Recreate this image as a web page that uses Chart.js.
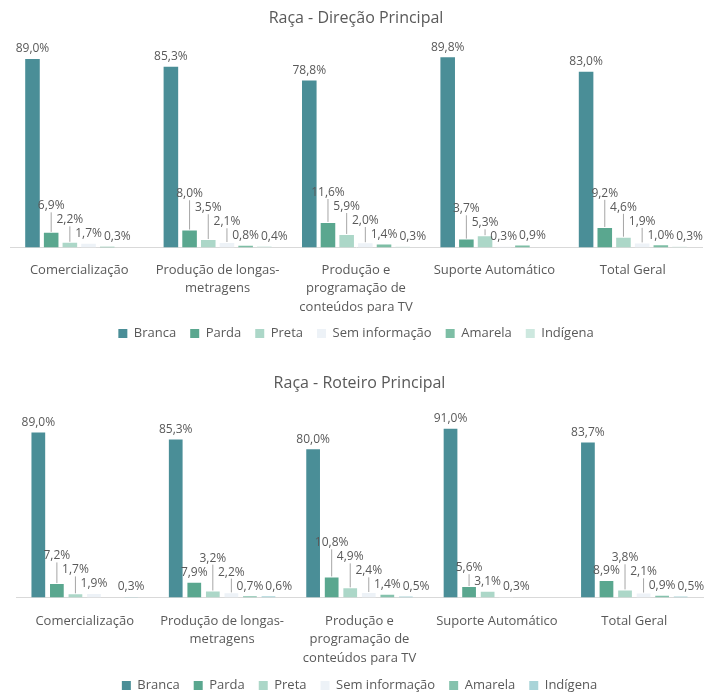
<!DOCTYPE html>
<html>
<head>
<meta charset="utf-8">
<script src="https://cdn.jsdelivr.net/npm/chart.js@4.4.1/dist/chart.umd.min.js"></script>
<style>
  html, body { margin: 0; padding: 0; background: #ffffff; overflow: hidden; width: 704px; height: 694px; }
  .box { position: absolute; left: 0; width: 704px; }
  #b1 { top: 0; height: 350px; }
  #b2 { top: 350px; height: 352px; }
</style>
</head>
<body>
<div class="box" id="b1"><canvas id="c1"></canvas></div>
<div class="box" id="b2"><canvas id="c2"></canvas></div>
<script>
// ---- Data ----
const categories = [
  'Comercialização',
  ['Produção de longas-', 'metragens'],
  ['Produção e', 'programação de', 'conteúdos para TV'],
  'Suporte Automático',
  'Total Geral'
];
const seriesNames = ['Branca', 'Parda', 'Preta', 'Sem informação', 'Amarela', 'Indígena'];

const titleDirecao = 'Raça - Direção Principal';
const direcaoBranca   = [89.0, 85.3, 78.8, 89.8, 83.0];
const direcaoParda    = [6.9, 8.0, 11.6, 3.7, 9.2];
const direcaoPreta    = [2.2, 3.5, 5.9, 5.3, 4.6];
const direcaoSemInfo  = [1.7, 2.1, 2.0, 0.3, 1.9];
const direcaoAmarela  = [0.3, 0.8, 1.4, 0.9, 1.0];
const direcaoIndigena = [0, 0.4, 0.3, 0, 0.3];

const titleRoteiro = 'Raça - Roteiro Principal';
const roteiroBranca   = [89.0, 85.3, 80.0, 91.0, 83.7];
const roteiroParda    = [7.2, 7.9, 10.8, 5.6, 8.9];
const roteiroPreta    = [1.7, 3.2, 4.9, 3.1, 3.8];
const roteiroSemInfo  = [1.9, 2.2, 2.4, 0.3, 2.1];
const roteiroAmarela  = [0, 0.7, 1.4, 0, 0.9];
const roteiroIndigena = [0.3, 0.6, 0.5, 0, 0.5];

// ---- Styles ----
const colorsDirecao = ['#4a8e97', '#5aa78f', '#acd7c8', '#edf2f7', '#7dbea5', '#cde8df'];
const colorsRoteiro = ['#4a8e97', '#5aa78f', '#acd7c8', '#edf2f7', '#85c2ad', '#a9d4d8'];
const textColor = '#595959';
const FONT = '"Open Sans", "Noto Sans", sans-serif';

function fmt(v) { return v.toFixed(1).replace('.', ',') + '%'; }

const barLabelPlugin = {
  id: 'barLabels',
  afterDatasetsDraw(chart) {
    const ctx = chart.ctx;
    ctx.save();
    ctx.font = '12px ' + FONT;
    ctx.textAlign = 'center';
    ctx.textBaseline = 'middle';
    const n = chart.data.labels.length;
    const nd = chart.data.datasets.length;
    const H = 13;
    const overlap = (a, b) => Math.abs(a.cx - b.cx) < (a.w + b.w) / 2 + 1 && Math.abs(a.cy - b.cy) < (a.h + b.h) / 2;
    for (let i = 0; i < n; i++) {
      const items = [];
      for (let d = 0; d < nd; d++) {
        const v = chart.data.datasets[d].data[i];
        if (!v) continue;
        const el = chart.getDatasetMeta(d).data[i];
        const text = fmt(v);
        const w = ctx.measureText(text).width;
        items.push({ d, bx: el.x, by: el.y, cx: el.x, cy: el.y - 10, w, h: H, text, raised: false, shifted: false });
      }
      const placed = [];
      for (let k = items.length - 1; k >= 0; k--) {
        const L = items[k];
        if (L.d !== 0 && placed.length) {
          const prev = placed[placed.length - 1];
          if (overlap(L, prev) && !prev.raised && !prev.shifted) {
            const need = (L.cx + L.w / 2 + 1) - (prev.cx - prev.w / 2) + 1;
            if (need <= 14) {
              prev.cx += need;
              const bad = placed.some(p => p !== prev && overlap(p, prev)) || prev.cx + prev.w / 2 > chart.width + 3;
              if (bad) prev.cx -= need; else prev.shifted = true;
            }
          }
          let guard = 0;
          let hit = placed.find(p => overlap(p, L));
          while (hit && guard < 20) {
            L.cy = hit.cy - (hit.h + L.h) / 2 - 1;
            L.raised = true;
            hit = placed.find(p => overlap(p, L));
            guard++;
          }
        }
        placed.push(L);
      }
      // leader lines
      ctx.strokeStyle = '#a6a6a6';
      ctx.lineWidth = 1;
      items.forEach(L => {
        if (L.d === 0) return;
        const tx = Math.min(Math.max(L.bx, L.cx - L.w / 2 + 3), L.cx + L.w / 2 - 3);
        const ty = L.cy + L.h / 2;
        const len = Math.hypot(tx - L.bx, ty - L.by);
        if ((L.raised || Math.abs(L.cx - L.bx) > 8) && len > 5) {
          ctx.beginPath();
          ctx.moveTo(L.bx, L.by - 1);
          ctx.lineTo(tx, ty);
          ctx.stroke();
        }
      });
      ctx.fillStyle = textColor;
      items.forEach(L => ctx.fillText(L.text, L.cx, L.cy));
    }
    ctx.restore();
  }
};

function makeChart(canvasId, title, series, colors, geo) {
  const datasets = series.map((vals, idx) => ({
    label: seriesNames[idx],
    data: vals,
    backgroundColor: colors[idx],
    borderWidth: 0,
    barPercentage: geo.barPct,
    categoryPercentage: geo.catPct
  }));
  return new Chart(document.getElementById(canvasId), {
    type: 'bar',
    data: { labels: categories, datasets },
    plugins: [barLabelPlugin],
    options: {
      responsive: true,
      maintainAspectRatio: false,
      animation: false,
      layout: { padding: { left: geo.left, right: geo.right, top: 0, bottom: 0 } },
      plugins: {
        title: {
          display: true,
          text: title,
          color: textColor,
          font: { family: FONT, size: 16, weight: 'normal' },
          padding: { top: geo.titleTop, bottom: geo.titleBottom }
        },
        legend: {
          position: 'bottom',
          labels: {
            color: textColor,
            font: { family: FONT, size: 13 },
            boxWidth: 9,
            boxHeight: 9,
            padding: 14
          }
        },
        tooltip: { enabled: false }
      },
      scales: {
        x: {
          grid: { display: false, drawTicks: false },
          border: { display: true, color: '#d9d9d9', width: 1 },
          ticks: {
            color: textColor,
            font: { family: FONT, size: 13, lineHeight: 1.45 },
            padding: geo.tickPad,
            maxRotation: 0,
            autoSkip: false
          },
          afterFit(scale) { scale.height -= geo.shrink; }
        },
        y: {
          display: false,
          min: 0,
          max: 100
        }
      }
    }
  });
}

makeChart('c1', titleDirecao,
  [direcaoBranca, direcaoParda, direcaoPreta, direcaoSemInfo, direcaoAmarela, direcaoIndigena],
  colorsDirecao,
  { left: 10, right: 2, titleTop: 8.5, titleBottom: 8, tickPad: 13, shrink: 17, barPct: 0.78, catPct: 0.81 });

makeChart('c2', titleRoteiro,
  [roteiroBranca, roteiroParda, roteiroPreta, roteiroSemInfo, roteiroAmarela, roteiroIndigena],
  colorsRoteiro,
  { left: 16, right: 1, titleTop: 24, titleBottom: 19, tickPad: 14, shrink: 17, barPct: 0.74, catPct: 0.81 });
</script>
</body>
</html>
